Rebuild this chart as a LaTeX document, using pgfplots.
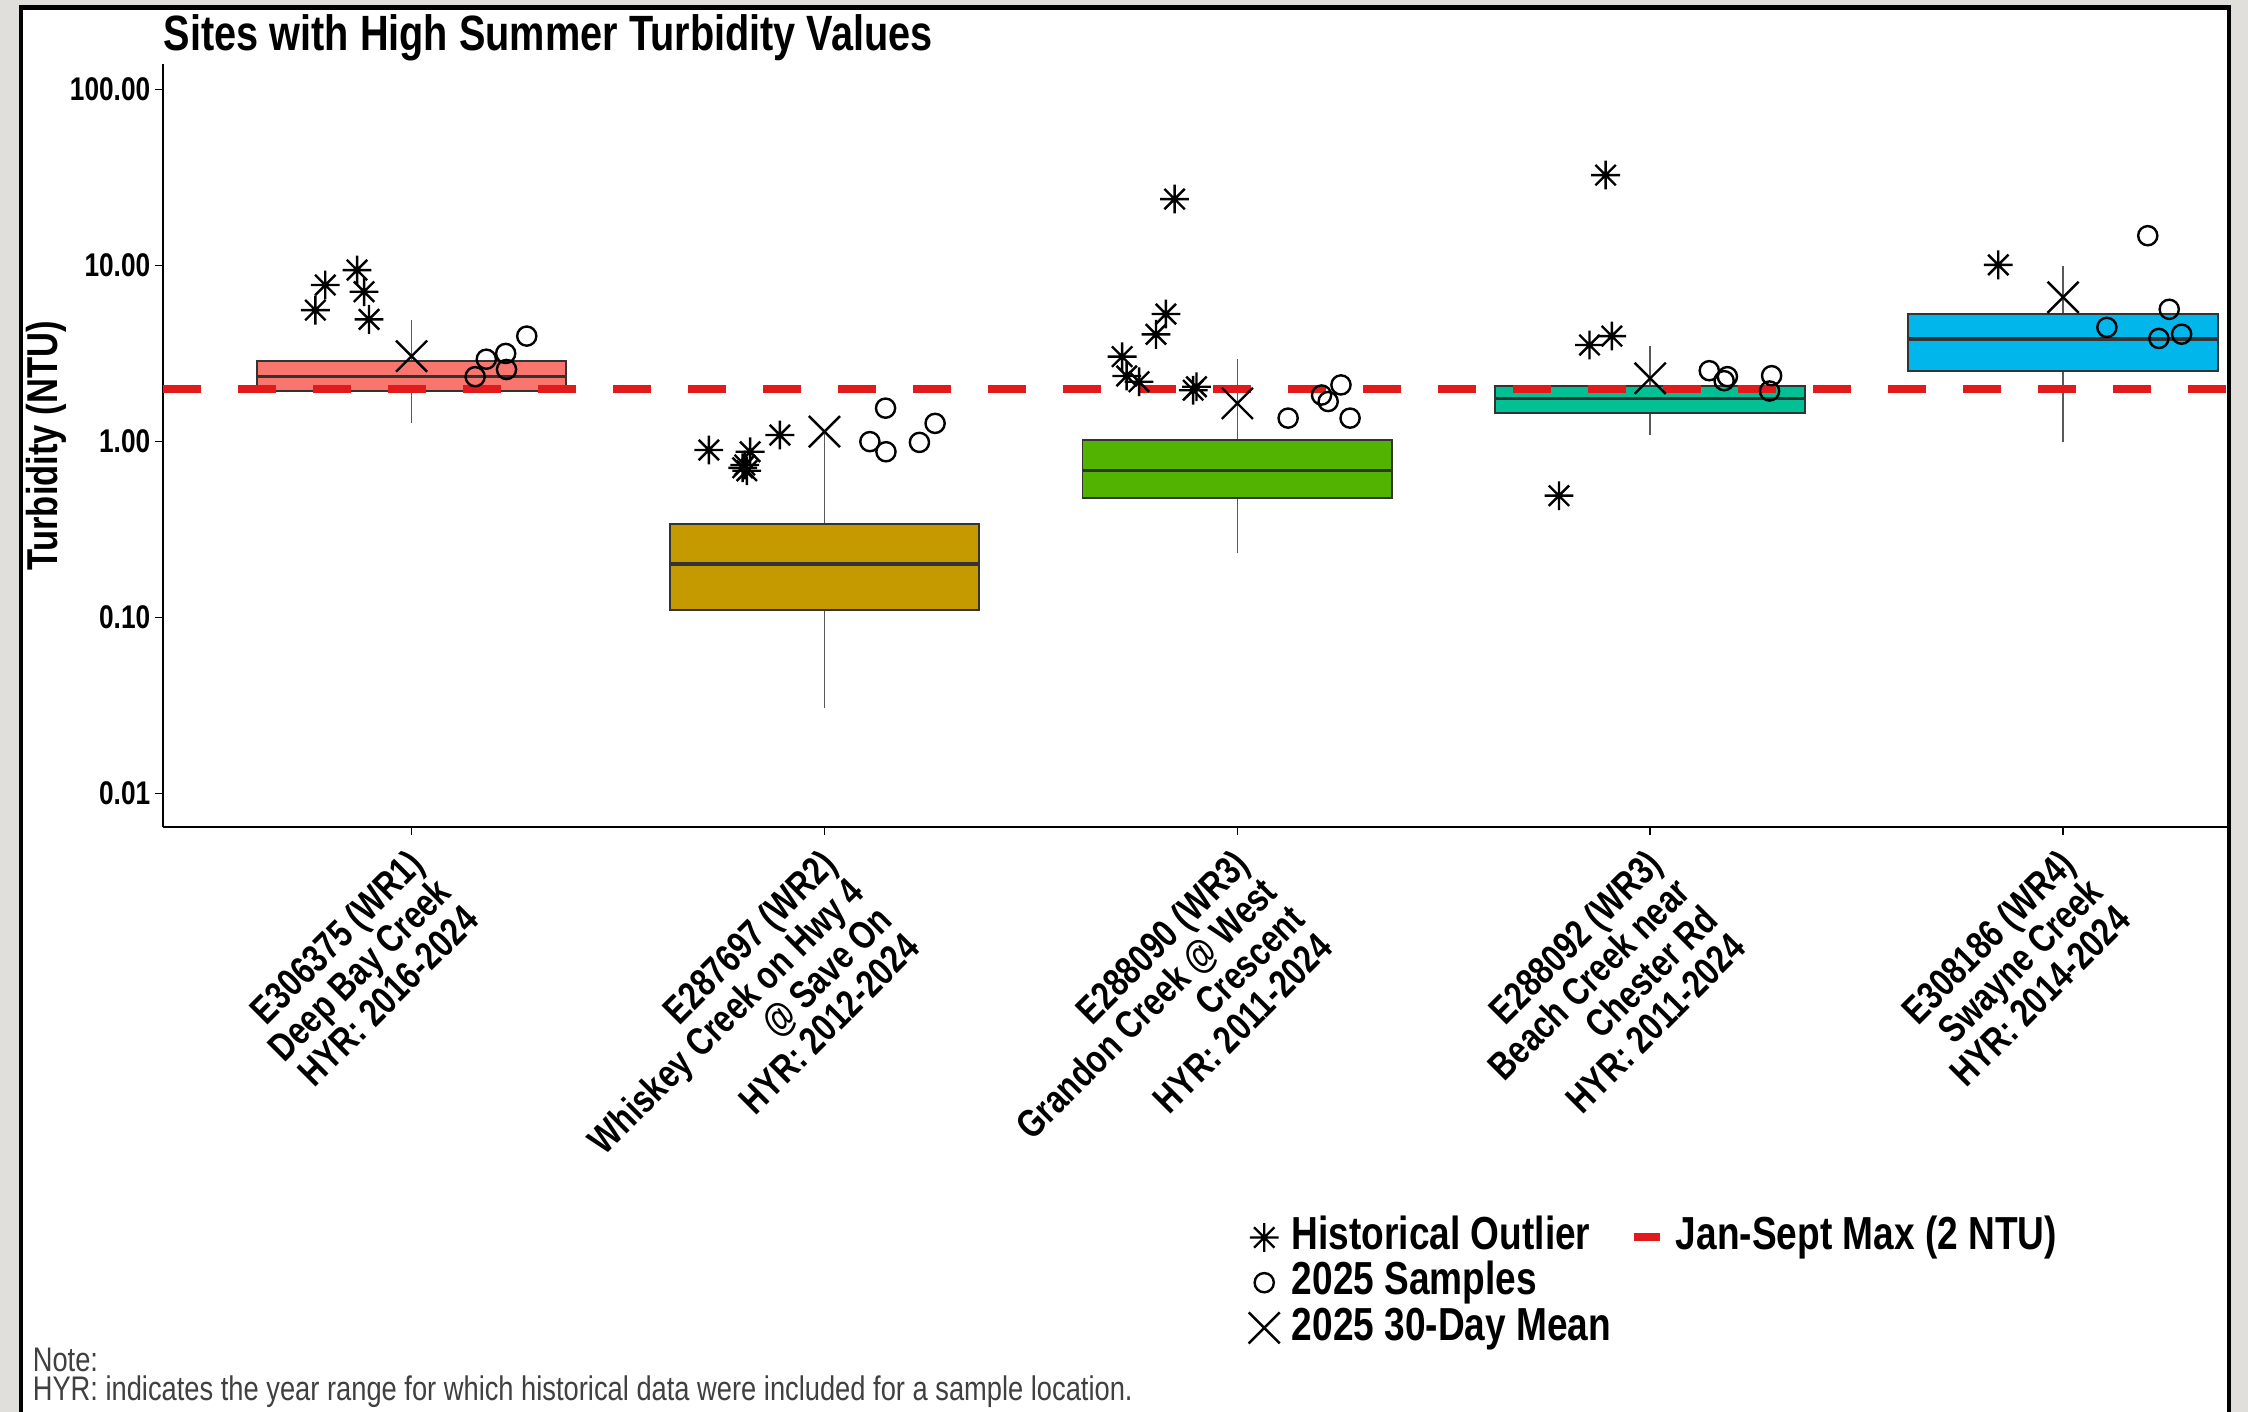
\documentclass[border=0pt]{standalone}
\usepackage{fontspec}
\setmainfont{Liberation Sans}[FakeStretch=0.8]
\usepackage{pgfplots}
\pgfplotsset{compat=1.18}

\definecolor{bggrey}{RGB}{224,223,219}
\definecolor{cA}{HTML}{F8766D}
\definecolor{cB}{HTML}{C49A00}
\definecolor{cC}{HTML}{53B400}
\definecolor{cD}{HTML}{00C094}
\definecolor{cE}{HTML}{00B6EB}
\definecolor{boxline}{HTML}{333333}
\definecolor{refred}{HTML}{E31A1C}

\pgfdeclareplotmark{star8}{%
  \pgfpathmoveto{\pgfqpoint{0pt}{\pgfplotmarksize}}%
  \pgfpathlineto{\pgfqpoint{0pt}{-\pgfplotmarksize}}%
  \pgfpathmoveto{\pgfqpoint{\pgfplotmarksize}{0pt}}%
  \pgfpathlineto{\pgfqpoint{-\pgfplotmarksize}{0pt}}%
  \pgfpathmoveto{\pgfqpoint{0.70711\pgfplotmarksize}{0.70711\pgfplotmarksize}}%
  \pgfpathlineto{\pgfqpoint{-0.70711\pgfplotmarksize}{-0.70711\pgfplotmarksize}}%
  \pgfpathmoveto{\pgfqpoint{-0.70711\pgfplotmarksize}{0.70711\pgfplotmarksize}}%
  \pgfpathlineto{\pgfqpoint{0.70711\pgfplotmarksize}{-0.70711\pgfplotmarksize}}%
  \pgfusepathqstroke}

\pgfplotsset{
  boxstyle/.style={draw=boxline, line width=0.45pt, forget plot},
  medstyle/.style={boxline, line width=0.9pt, forget plot},
  whiskstyle/.style={black!65, line width=0.4pt, forget plot},
}

\begin{document}
\begin{tikzpicture}
\useasboundingbox (0pt,0pt) rectangle (562pt,353pt);
\fill[bggrey] (0pt,0pt) rectangle (562pt,353pt);
\fill[white] (5.75pt,0pt) rectangle (556.75pt,350.5pt);
\fill[black] (4.75pt,0pt) rectangle (5.75pt,351.75pt);
\fill[black] (4.75pt,350.5pt) rectangle (557.75pt,351.75pt);
\fill[black] (556.75pt,0pt) rectangle (557.75pt,351.75pt);
\begin{axis}[
  at={(40.75pt,146.25pt)}, anchor=south west,
  scale only axis, width=516pt, height=190.625pt,
  xmin=0.398, xmax=5.397,
  ymode=log, ymin=0.00646, ymax=139,
  axis lines=left,
  axis line style={-, line width=0.4pt, black},
  tick style={black, line width=0.4pt},
  tick align=outside, major tick length=2pt,
  yminorticks=false,
  ytick={0.01,0.1,1,10,100},
  yticklabels={0.01,0.10,1.00,10.00,100.00},
  yticklabel style={font=\fontsize{8.2}{9.5}\selectfont\bfseries, anchor=east, inner sep=0pt, xshift=-1pt},
  xtick={1,2,3,4,5},
  xticklabels={
    {E306375 (WR1)\\Deep Bay Creek\\HYR: 2016-2024},
    {E287697 (WR2)\\Whiskey Creek on Hwy 4\\@ Save On\\HYR: 2012-2024},
    {E288090 (WR3)\\Grandon Creek @ West\\Crescent\\HYR: 2011-2024},
    {E288092 (WR3)\\Beach Creek near\\Chester Rd\\HYR: 2011-2024},
    {E308186 (WR4)\\Swayne Creek\\HYR: 2014-2024}},
  xticklabel style={font={\fontsize{9.8}{9.8}\selectfont\bfseries\lineskiplimit=-20pt\relax}, align=right, xshift=-1.5pt, yshift=-2.7pt, rotate=45, anchor=north east, inner sep=0pt},
  title={Sites with High Summer Turbidity Values},
  every axis title/.style={at={(axis description cs:0,1.0185)}, anchor=base west, font=\fontsize{12.4}{14}\selectfont\bfseries, inner sep=0pt},
  ylabel={Turbidity (NTU)},
  every axis y label/.style={at={(axis description cs:-0.0567,0.5)}, anchor=center, rotate=90, font=\fontsize{10.8}{12}\selectfont\bfseries, inner sep=0pt},
  legend columns=2,
  legend cell align=left,
  legend image code/.code={\draw[mark repeat=2,mark phase=2,#1] plot coordinates {(0pt,0pt) (3.25pt,0pt) (6.5pt,0pt)};},
  legend style={at={(axis description cs:0.526,-0.5087)}, anchor=north west, draw=none, fill=none,
    inner sep=0pt, outer sep=0pt, row sep=0pt,
    font=\fontsize{11.58}{13}\selectfont\bfseries,
    nodes={inner sep=0.5pt, text height=8.2pt, text depth=2.1pt},
    /tikz/every odd column/.append style={column sep=2.5pt},
    /tikz/every even column/.append style={column sep=4.2pt}},
]
% whiskers
\addplot[whiskstyle] coordinates {(1,2.88) (1,4.91)};
\addplot[whiskstyle] coordinates {(1,1.28) (1,1.94)};
\addplot[whiskstyle] coordinates {(2,0.340) (2,1.10)};
\addplot[whiskstyle] coordinates {(2,0.0305) (2,0.110)};
\addplot[whiskstyle] coordinates {(3,1.02) (3,2.95)};
\addplot[whiskstyle] coordinates {(3,0.232) (3,0.476)};
\addplot[whiskstyle] coordinates {(4,2.07) (4,3.49)};
\addplot[whiskstyle] coordinates {(4,1.09) (4,1.45)};
\addplot[whiskstyle] coordinates {(5,5.31) (5,9.95)};
\addplot[whiskstyle] coordinates {(5,0.99) (5,2.53)};
% boxes (lower quartile, upper quartile)
\addplot[boxstyle, fill=cA] coordinates {(0.625,1.94) (1.375,1.94) (1.375,2.88) (0.625,2.88)} -- cycle;
\addplot[boxstyle, fill=cB] coordinates {(1.625,0.110) (2.375,0.110) (2.375,0.340) (1.625,0.340)} -- cycle;
\addplot[boxstyle, fill=cC] coordinates {(2.625,0.476) (3.375,0.476) (3.375,1.02) (2.625,1.02)} -- cycle;
\addplot[boxstyle, fill=cD] coordinates {(3.625,1.45) (4.375,1.45) (4.375,2.07) (3.625,2.07)} -- cycle;
\addplot[boxstyle, fill=cE] coordinates {(4.625,2.53) (5.375,2.53) (5.375,5.31) (4.625,5.31)} -- cycle;
% medians
\addplot[medstyle] coordinates {(0.625,2.34) (1.375,2.34)};
\addplot[medstyle] coordinates {(1.625,0.202) (2.375,0.202)};
\addplot[medstyle] coordinates {(2.625,0.684) (3.375,0.684)};
\addplot[medstyle] coordinates {(3.625,1.76) (4.375,1.76)};
\addplot[medstyle] coordinates {(4.625,3.83) (5.375,3.83)};
% reference line
\addplot[refred, line width=2pt, dash pattern=on 9.375pt off 9.375pt, forget plot] coordinates {(0.398,2) (5.397,2)};
% historical outliers
\addplot[only marks, mark=star8, mark size=3.6pt, line width=0.6pt, black, forget plot] coordinates {
 (0.767,5.59) (0.791,7.76) (0.868,9.44) (0.885,7.11) (0.897,4.95)
 (1.720,0.896) (1.820,0.876) (1.807,0.737) (1.812,0.683) (1.802,0.710) (1.892,1.09)
 (2.848,23.9) (2.827,5.31) (2.803,4.07) (2.721,3.04) (2.732,2.36) (2.762,2.19) (2.893,1.96) (2.901,2.05)
 (3.892,32.7) (3.853,3.54) (3.907,3.98) (3.779,0.493)
 (4.843,10.1)};
% 2025 samples
\addplot[only marks, mark=o, mark size=2.4pt, line width=0.6pt, black, forget plot] coordinates {
 (1.154,2.34) (1.181,2.94) (1.228,3.17) (1.230,2.57) (1.279,3.98)
 (2.110,1.00) (2.148,1.55) (2.149,0.876) (2.230,0.99) (2.268,1.27)
 (3.123,1.36) (3.204,1.84) (3.220,1.69) (3.251,2.10) (3.273,1.36)
 (4.143,2.53) (4.179,2.22) (4.187,2.34) (4.294,2.37) (4.289,1.94)
 (5.205,14.8) (5.106,4.46) (5.257,5.65) (5.232,3.86) (5.287,4.08)};
% 30-day mean
\addplot[only marks, mark=x, mark size=5.5pt, line width=0.6pt, black, forget plot] coordinates {
 (1,3.06) (2,1.14) (3,1.65) (4,2.29) (5,6.61)};
% legend
\addlegendimage{only marks, mark=star8, mark size=3.6pt, line width=0.6pt, black}
\addlegendentry{Historical Outlier}
\addlegendimage{legend image code/.code={\draw[refred, line width=2pt] (0pt,0pt) -- (6.5pt,0pt);}}
\addlegendentry{Jan-Sept Max (2 NTU)}
\addlegendimage{only marks, mark=o, mark size=2.4pt, line width=0.6pt, black}
\addlegendentry{2025 Samples}
\addlegendimage{empty legend}
\addlegendentry{}
\addlegendimage{only marks, mark=x, mark size=5.5pt, line width=0.6pt, black}
\addlegendentry{2025 30-Day Mean}
\end{axis}
\node[anchor=base west, inner sep=0pt, text=black!75, font=\fontsize{8.53}{10}\selectfont] at (8pt,10pt) {Note:};
\node[anchor=base west, inner sep=0pt, text=black!75, font=\fontsize{8.53}{10}\selectfont] at (8pt,2.75pt) {HYR: indicates the year range for which historical data were included for a sample location.};
\end{tikzpicture}
\end{document}
